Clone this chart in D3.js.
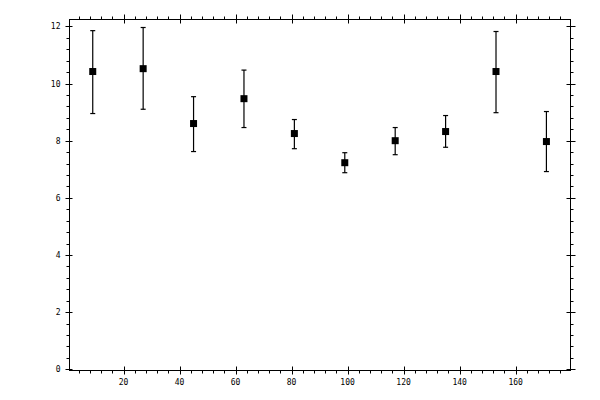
<!DOCTYPE html>
<html>
<head>
<meta charset="utf-8">
<script src="https://cdn.jsdelivr.net/npm/d3@7"></script>
<style>
  body { margin: 0; background: #fff; }
  text { font-family: "DejaVu Sans Mono", monospace; font-size: 8px; fill: #000; }
</style>
</head>
<body>
<div id="chart"></div>
<script>
// bin centres and measured values with lower / upper error
var xs    = [9, 27, 45, 63, 81, 99, 117, 135, 153, 171];
var means = [10.42, 10.52, 8.60, 9.47, 8.25, 7.23, 8.00, 8.32, 10.42, 7.97];
var lows  = [8.95, 9.10, 7.62, 8.46, 7.72, 6.88, 7.51, 7.77, 8.98, 6.92];
var highs = [11.85, 11.96, 9.54, 10.47, 8.74, 7.58, 8.46, 8.88, 11.82, 9.02];
var xTicks = [20, 40, 60, 80, 100, 120, 140, 160];
var yTicks = [0, 2, 4, 6, 8, 10, 12];

var width = 600, height = 400;
var pLeft = 69.5, pRight = 570.5, pTop = 19.5, pBottom = 370.5;

var x = d3.scaleLinear().domain([0.7, 179.6]).range([pLeft, pRight]);
var y = d3.scaleLinear().domain([-0.04, 12.24]).range([pBottom, pTop]);

var svg = d3.select("#chart").append("svg")
    .attr("width", width)
    .attr("height", height);

// frame
svg.append("rect")
    .attr("x", pLeft).attr("y", pTop)
    .attr("width", pRight - pLeft).attr("height", pBottom - pTop)
    .attr("fill", "none").attr("stroke", "#000").attr("stroke-width", 1);

var xMinor = d3.range(4, 180, 4).filter(function(v){ return v % 20 != 0 && x(v) < pRight - 1; });
var yMinor = d3.range(0, 12.3, 0.4).filter(function(v){ return Math.abs(v / 2 - Math.round(v / 2)) > 0.01; });

var ticks = svg.append("g").attr("stroke", "#000").attr("stroke-width", 1);

// bottom & top axes
xTicks.forEach(function(v){
  var px = Math.round(x(v)) + 0.5;
  ticks.append("line").attr("x1", px).attr("x2", px).attr("y1", pBottom - 4).attr("y2", pBottom + 4);
  ticks.append("line").attr("x1", px).attr("x2", px).attr("y1", pTop - 5).attr("y2", pTop + 4);
});
xMinor.forEach(function(v){
  var px = Math.round(x(v)) + 0.5;
  ticks.append("line").attr("x1", px).attr("x2", px).attr("y1", pBottom).attr("y2", pBottom + 3);
  ticks.append("line").attr("x1", px).attr("x2", px).attr("y1", pTop - 3).attr("y2", pTop);
});

// left & right axes
yTicks.forEach(function(v){
  var py = Math.round(y(v)) + 0.5;
  ticks.append("line").attr("x1", pLeft - 4).attr("x2", pLeft + 3).attr("y1", py).attr("y2", py);
  ticks.append("line").attr("x1", pRight - 4).attr("x2", pRight + 5).attr("y1", py).attr("y2", py);
});
yMinor.forEach(function(v){
  var py = Math.round(y(v)) + 0.5;
  ticks.append("line").attr("x1", pLeft - 3).attr("x2", pLeft).attr("y1", py).attr("y2", py);
  ticks.append("line").attr("x1", pRight).attr("x2", pRight + 3).attr("y1", py).attr("y2", py);
});

// tick labels
svg.selectAll(".xl").data(xTicks).enter().append("text")
    .attr("x", function(d){ return x(d); })
    .attr("y", pBottom + 14)
    .attr("text-anchor", "middle")
    .text(function(d){ return d; });

svg.selectAll(".yl").data(yTicks).enter().append("text")
    .attr("x", pLeft - 9)
    .attr("y", function(d){ return y(d) + 3; })
    .attr("text-anchor", "end")
    .text(function(d){ return d; });

// error bars
var bars = svg.append("g").attr("stroke", "#000").attr("stroke-width", 1.2);
xs.forEach(function(v, i){
  var px = x(v);
  bars.append("line").attr("x1", px).attr("x2", px).attr("y1", y(lows[i])).attr("y2", y(highs[i]));
  bars.append("line").attr("x1", px - 2.5).attr("x2", px + 2.5).attr("y1", y(lows[i])).attr("y2", y(lows[i]));
  bars.append("line").attr("x1", px - 2.5).attr("x2", px + 2.5).attr("y1", y(highs[i])).attr("y2", y(highs[i]));
});

// square markers
svg.selectAll(".pt").data(xs).enter().append("rect")
    .attr("x", function(d){ return x(d) - 3.5; })
    .attr("y", function(d, i){ return y(means[i]) - 3.5; })
    .attr("width", 7).attr("height", 7)
    .attr("fill", "#000");
</script>
</body>
</html>
